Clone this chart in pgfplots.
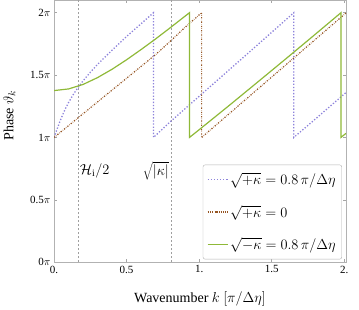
\documentclass[border=0pt]{standalone}
\usepackage{pgfplots}
\pgfplotsset{compat=1.18}
\usepackage{fontspec}
\setmainfont{Liberation Serif}
\definecolor{cblue}{RGB}{141,131,219}
\definecolor{cbrown}{RGB}{150,85,35}
\definecolor{cgreen}{RGB}{143,185,56}
\begin{document}
\begin{tikzpicture}
\begin{axis}[
  scale only axis, width=292pt, height=262pt,
  xmin=0, xmax=2.012, ymin=0, ymax=2.1,
  axis line style={gray!60, line width=0.5pt},
  tick style={gray!70, line width=0.5pt},
  major tick length=3pt,
  tick align=inside,
  xtick={0,0.5,1,1.5,2}, xticklabels={0.,0.5,1.,1.5,2.},
  ytick={0,0.5,1,1.5,2}, yticklabels={0$\pi$,0.5$\pi$,1$\pi$,1.5$\pi$,2$\pi$},
  ticklabel style={font=\fontsize{11}{13}\selectfont},
  xtick pos=both, ytick pos=both,
  xlabel={Wavenumber $k$ $[\pi/\Delta\eta]$},
  ylabel={Phase $\vartheta_k$},
  label style={font=\fontsize{14}{16}\selectfont},
  xlabel style={at={(axis description cs:0.5,-0.1)}, anchor=north},
  ylabel style={at={(axis description cs:-0.12,0.56)}, anchor=south},
  legend cell align=left,
  legend style={font=\fontsize{14}{16}\selectfont, draw=gray!60, rounded corners=2pt, fill=white,
    at={(axis description cs:0.986,0.011)}, anchor=south east, row sep=15pt,
    inner xsep=4pt, inner ysep=6pt},
  legend image code/.code={\draw[#1] (0cm,0cm) -- (0.7cm,0cm);},
]
\addplot[forget plot, gray!75, line width=0.6pt, dash pattern=on 2.2pt off 1.8pt] coordinates {(0.165,0) (0.165,2.1)};
\addplot[forget plot, gray!75, line width=0.6pt, dash pattern=on 2.2pt off 1.8pt] coordinates {(0.805,0) (0.805,2.1)};

\addplot[cblue, line width=1.3pt, dash pattern=on 1.3pt off 1.8pt] coordinates {
(0,1.0)(0.02,1.065)(0.04,1.127)(0.06,1.184)(0.08,1.235)(0.1,1.28)(0.13,1.34)(0.16,1.392)(0.2,1.454)(0.25,1.523)(0.3,1.586)(0.4,1.70)(0.5,1.81)(0.6,1.912)(0.685,2.0)(0.685,1.0)(0.8,1.125)(1.0,1.33)(1.2,1.535)(1.4,1.74)(1.652,2.0)(1.652,1.0)(1.8,1.147)(2.0,1.348)(2.012,1.36)};
\addlegendentry{$\sqrt{+\kappa} = 0.8\,\pi/\Delta\eta$}

\addplot[cbrown, line width=1.2pt, dash pattern=on 1.3pt off 1.3pt on 0.4pt off 1.3pt] coordinates {
(0,1.0)(0.2,1.19)(0.4,1.38)(0.6,1.57)(0.7,1.665)(0.8,1.77)(0.9,1.88)(1.017,2.0)(1.017,1.0)(2.0,1.986)(2.012,1.998)};
\addlegendentry{$\sqrt{+\kappa} = 0$}

\addplot[cgreen, line width=1.2pt] coordinates {
(0,1.376)(0.1,1.389)(0.2,1.425)(0.3,1.48)(0.4,1.547)(0.5,1.623)(0.6,1.705)(0.7,1.79)(0.8,1.879)(0.9,1.97)(0.933,2.0)(0.933,1.0)(1.0,1.062)(1.2,1.25)(1.4,1.441)(1.6,1.633)(1.8,1.827)(1.977,2.0)(1.977,1.0)(2.0,1.022)(2.012,1.033)};
\addlegendentry{$\sqrt{-\kappa} = 0.8\,\pi/\Delta\eta$}

\node[anchor=west, font=\fontsize{14}{16}\selectfont, inner sep=1pt] at (axis cs:0.17,0.73) {$\mathcal{H}_\mathrm{i}/2$};
\node[anchor=east, font=\fontsize{14}{16}\selectfont, inner sep=1pt] at (axis cs:0.80,0.73) {$\sqrt{|\kappa|}$};
\end{axis}
\path ([xshift=13pt]current axis.south east);
\end{tikzpicture}
\end{document}
